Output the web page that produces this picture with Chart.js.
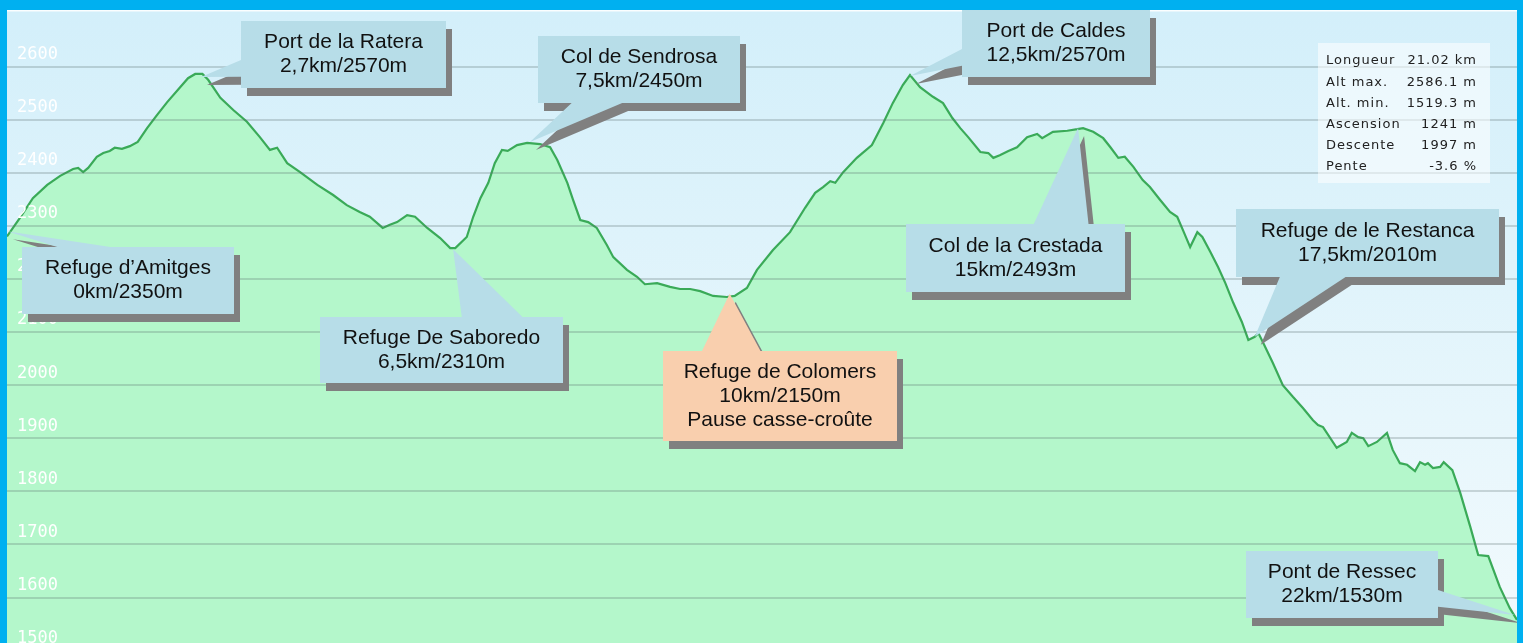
<!DOCTYPE html>
<html>
<head>
<meta charset="utf-8">
<script src="https://cdn.jsdelivr.net/npm/chart.js@4.4.0/dist/chart.umd.min.js"></script>
<style>
  html, body { margin: 0; padding: 0; background: #00b0f0; overflow: hidden; }
  #profil { position: absolute; left: 7px; top: 10px; }
</style>
</head>
<body>
<canvas id="profil" width="1510" height="633"></canvas>
<script>
// distance (km) / altitude (m)
const distances = [0.00, 0.18, 0.36, 0.56, 0.74, 0.92, 0.99, 1.06, 1.13, 1.25, 1.34, 1.43, 1.50, 1.60, 1.71, 1.82, 1.95, 2.09, 2.23, 2.41,
  2.52, 2.62, 2.72, 2.80, 2.97, 3.15, 3.34, 3.52, 3.66, 3.76, 3.90, 4.08, 4.32, 4.54, 4.73, 4.91, 5.05, 5.23, 5.33, 5.43,
  5.57, 5.68, 5.85, 6.03, 6.17, 6.24, 6.40, 6.49, 6.59, 6.70, 6.79, 6.89, 6.97, 7.10, 7.24, 7.42, 7.56, 7.66, 7.80, 7.88,
  7.98, 8.09, 8.21, 8.35, 8.44, 8.63, 8.77, 8.88, 9.05, 9.23, 9.37, 9.51, 9.65, 9.83, 10.02, 10.13, 10.30, 10.44, 10.66, 10.90,
  11.11, 11.25, 11.36, 11.46, 11.53, 11.64, 11.83, 12.04, 12.20, 12.33, 12.47, 12.57, 12.71, 12.89, 13.03, 13.16, 13.27, 13.38, 13.55, 13.66,
  13.73, 13.82, 13.94, 14.06, 14.20, 14.34, 14.41, 14.56, 14.76, 14.90, 14.98, 15.12, 15.26, 15.36, 15.47, 15.56, 15.68, 15.81, 15.91, 16.05,
  16.19, 16.29, 16.37, 16.47, 16.57, 16.64, 16.75, 16.86, 16.96, 17.07, 17.19, 17.28, 17.37, 17.42, 17.49, 17.62, 17.76, 17.90, 18.04, 18.18,
  18.25, 18.32, 18.51, 18.65, 18.72, 18.81, 18.88, 18.95, 19.07, 19.21, 19.29, 19.39, 19.49, 19.60, 19.67, 19.74, 19.78, 19.85, 19.95, 20.00,
  20.12, 20.23, 20.37, 20.48, 20.62, 20.78, 20.92, 21.02];
const altitudes = [2280, 2315, 2352, 2377, 2394, 2407, 2409, 2401, 2409, 2430, 2437, 2441, 2447, 2445, 2450, 2458, 2484, 2509, 2533, 2561,
  2578, 2586, 2586, 2575, 2541, 2518, 2496, 2467, 2443, 2447, 2418, 2401, 2377, 2358, 2339, 2326, 2317, 2296, 2302, 2307,
  2320, 2317, 2296, 2277, 2258, 2258, 2279, 2317, 2352, 2381, 2418, 2443, 2441, 2452, 2456, 2454, 2448, 2424, 2381, 2349,
  2311, 2307, 2296, 2264, 2241, 2217, 2204, 2190, 2192, 2185, 2181, 2181, 2177, 2168, 2166, 2168, 2183, 2217, 2254, 2288,
  2334, 2362, 2373, 2384, 2381, 2401, 2428, 2452, 2494, 2531, 2565, 2584, 2561, 2543, 2531, 2503, 2484, 2467, 2439, 2437,
  2428, 2433, 2441, 2448, 2467, 2473, 2465, 2477, 2479, 2482, 2484, 2477, 2465, 2448, 2428, 2430, 2411, 2386, 2373, 2349,
  2326, 2317, 2292, 2260, 2288, 2279, 2251, 2222, 2192, 2155, 2119, 2085, 2091, 2098, 2079, 2042, 2000, 1978, 1957, 1934,
  1925, 1921, 1882, 1893, 1910, 1902, 1900, 1885, 1893, 1910, 1878, 1853, 1850, 1838, 1855, 1850, 1853, 1844, 1846, 1855,
  1840, 1797, 1733, 1680, 1678, 1620, 1580, 1558];
const altTicks = [1500, 1600, 1700, 1800, 1900, 2000, 2100, 2200, 2300, 2400, 2500, 2600];

// étapes : texte + point visé sur le profil
const stepNames = [
  ["Refuge d\u2019Amitges", "0km/2350m"],
  ["Port de la Ratera", "2,7km/2570m"],
  ["Refuge De Saboredo", "6,5km/2310m"],
  ["Col de Sendrosa", "7,5km/2450m"],
  ["Refuge de Colomers", "10km/2150m", "Pause casse-croûte"],
  ["Port de Caldes", "12,5km/2570m"],
  ["Col de la Crestada", "15km/2493m"],
  ["Refuge de le Restanca", "17,5km/2010m"],
  ["Pont de Ressec", "22km/1530m"]
];
const stepKm = [0, 2.70, 6.21, 7.28, 10.06, 12.57, 14.91, 17.37, 20.99];
const stepAlt = [2290, 2580, 2256, 2458, 2172, 2582, 2484, 2091, 1567];

const statLabels = ["Longueur", "Alt max.", "Alt. min.", "Ascension", "Descente", "Pente"];
const statValues = ["21.02 km", "2586.1 m", "1519.3 m", "1241 m", "1997 m", "-3.6 %"];

// boxes of the callouts (canvas px)
const boxes = [
  {x: 15, y: 237, w: 212, h: 67},
  {x: 234, y: 11, w: 205, h: 67},
  {x: 313, y: 307, w: 243, h: 66},
  {x: 531, y: 26, w: 202, h: 67},
  {x: 656, y: 341, w: 234, h: 90, color: '#f9cfae'},
  {x: 955, y: 0, w: 188, h: 67},
  {x: 899, y: 214, w: 219, h: 68},
  {x: 1229, y: 199, w: 263, h: 68},
  {x: 1239, y: 541, w: 192, h: 67}
];

function calloutPath(ctx, b, tx, ty) {
  const {x, y, w, h} = b;
  const dxPos = tx - (x + w / 2), dyPos = ty - (y + h / 2);
  const vert = Math.abs(dxPos * h / w) < Math.abs(dyPos);
  const fx = dxPos > 0 ? [7, 10] : [2, 5];
  const fy = dyPos > 0 ? [7, 10] : [2, 5];
  ctx.beginPath();
  ctx.moveTo(x, y);
  if (vert && dyPos < 0) {
    ctx.lineTo(x + w * fx[0] / 12, y); ctx.lineTo(tx, ty); ctx.lineTo(x + w * fx[1] / 12, y);
  }
  ctx.lineTo(x + w, y);
  if (!vert && dxPos > 0) {
    ctx.lineTo(x + w, y + h * fy[0] / 12); ctx.lineTo(tx, ty); ctx.lineTo(x + w, y + h * fy[1] / 12);
  }
  ctx.lineTo(x + w, y + h);
  if (vert && dyPos >= 0) {
    ctx.lineTo(x + w * fx[1] / 12, y + h); ctx.lineTo(tx, ty); ctx.lineTo(x + w * fx[0] / 12, y + h);
  }
  ctx.lineTo(x, y + h);
  if (!vert && dxPos <= 0) {
    ctx.lineTo(x, y + h * fy[1] / 12); ctx.lineTo(tx, ty); ctx.lineTo(x, y + h * fy[0] / 12);
  }
  ctx.closePath();
}

const decor = {
  id: 'decor',
  beforeDraw(chart) {
    const {ctx, chartArea: a} = chart;
    const g = ctx.createLinearGradient(0, a.top, 0, a.bottom);
    g.addColorStop(0, '#d3effa');
    g.addColorStop(1, '#f2fafd');
    ctx.save();
    ctx.fillStyle = g;
    ctx.fillRect(a.left, a.top, a.right - a.left, a.bottom - a.top);
    ctx.fillStyle = 'rgba(255,255,255,0.9)';
    ctx.fillRect(a.left, a.top, a.right - a.left, 1.5);
    ctx.restore();
  },
  afterDraw(chart) {
    const {ctx, scales: {x, y}} = chart;
    ctx.save();
    // stats box
    ctx.fillStyle = 'rgba(255,255,255,0.55)';
    ctx.fillRect(1311, 33, 172, 140);
    ctx.fillStyle = '#222';
    ctx.font = '13px "DejaVu Sans"';
    ctx.letterSpacing = '1px';
    ctx.textBaseline = 'middle';
    statLabels.forEach((l, i) => {
      ctx.textAlign = 'left';
      ctx.fillText(l, 1319, 51 + i * 21.2);
      ctx.textAlign = 'right';
      ctx.fillText(statValues[i], 1470, 51 + i * 21.2);
    });
    ctx.letterSpacing = '0px';

    // callouts
    ctx.font = '21px "Liberation Sans", Arial, sans-serif';
    ctx.textAlign = 'center';
    stepNames.forEach((lines, i) => {
      const b = boxes[i];
      const tx = x.getPixelForValue(stepKm[i]);
      const ty = y.getPixelForValue(stepAlt[i]);
      ctx.save();
      ctx.translate(6, 8);
      calloutPath(ctx, b, tx, ty);
      ctx.fillStyle = '#808080';
      ctx.fill();
      ctx.restore();
      calloutPath(ctx, b, tx, ty);
      ctx.fillStyle = b.color || '#b7dde8';
      ctx.fill();
      ctx.fillStyle = '#111';
      const cy = b.y + b.h / 2 - (lines.length - 1) * 12;
      lines.forEach((t, j) => ctx.fillText(t, b.x + b.w / 2, cy + j * 24));
    });
    ctx.restore();
  }
};

new Chart(document.getElementById('profil'), {
  type: 'line',
  data: {
    datasets: [{
      data: distances.map((d, i) => ({x: d, y: altitudes[i]})),
      borderColor: '#3aaa58',
      borderWidth: 2.2,
      backgroundColor: '#b4f7cb',
      fill: 'start',
      pointRadius: 0,
      tension: 0
    }]
  },
  options: {
    responsive: false,
    animation: false,
    devicePixelRatio: 1,
    layout: { padding: 0 },
    plugins: { legend: { display: false }, tooltip: { enabled: false } },
    scales: {
      x: { type: 'linear', min: 0, max: 21.02, display: false },
      y: {
        min: 1514.4,
        max: 2706.4,
        afterBuildTicks: s => { s.ticks = altTicks.map(v => ({value: v})); },
        afterFit: s => { s.width = 0; s.paddingTop = 0; s.paddingBottom = 0; },
        border: { display: false },
        grid: { color: 'rgba(90,110,110,0.26)', lineWidth: 2, drawTicks: false, z: 1 },
        ticks: {
          mirror: true, padding: 10, labelOffset: -12, z: 1,
          color: '#ffffff',
          font: { family: 'DejaVu Sans Mono', size: 17 },
          callback: v => String(v)
        }
      }
    }
  },
  plugins: [decor]
});
</script>
</body>
</html>
